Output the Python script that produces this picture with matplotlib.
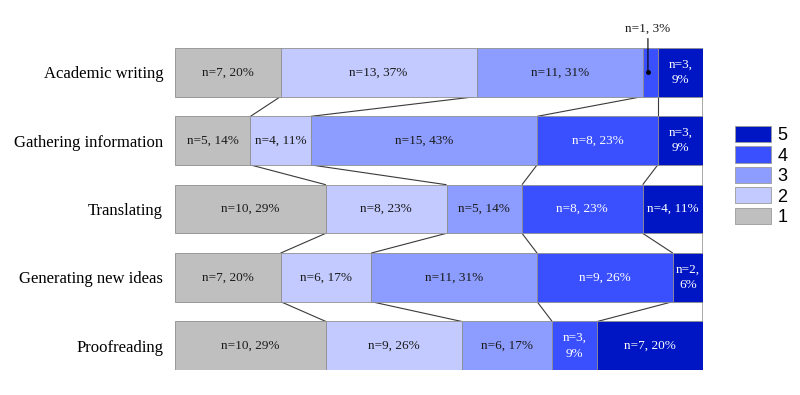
import matplotlib
matplotlib.use("Agg")
import matplotlib.pyplot as plt
from matplotlib.patches import Patch
import numpy as np

categories = ["Academic writing", "Gathering information", "Translating",
              "Generating new ideas", "Proofreading"]
levels = ["1", "2", "3", "4", "5"]
counts = {
    "1": [7, 5, 10, 7, 10],
    "2": [13, 4, 8, 6, 9],
    "3": [11, 15, 5, 11, 6],
    "4": [1, 8, 8, 9, 3],
    "5": [3, 3, 4, 2, 7],
}
colors = ["#BFBFBF", "#C2CAFF", "#8C9CFF", "#3A50FF", "#0016C4"]
text_colors = ["#1a1a1a", "#1a1a1a", "#1a1a1a", "white", "white"]

serif = "Liberation Serif"
sans = "Liberation Sans"
fs = 9.5

fig = plt.figure(figsize=(8, 3.95), dpi=100)
ax = fig.add_axes([175 / 800, 1 - 370 / 395, (703 - 175) / 800, (370 - 48) / 395])

data = np.array([counts[l] for l in levels], dtype=float)  # levels x categories
total = data.sum(axis=0)
cum = np.vstack([np.zeros(len(categories)), np.cumsum(data, axis=0)])
y = np.arange(len(categories))
h = 0.71

for j, lev in enumerate(levels):
    ax.barh(y, data[j], left=cum[j], height=h, color=colors[j],
            edgecolor="#8f8f8f", linewidth=0.6, zorder=2)
    for i in range(len(categories)):
        n = int(data[j, i])
        pct = int(round(n / total[i] * 100))
        xc = cum[j, i] + n / 2
        if n == 1:
            ax.plot([xc - 0.15], [y[i]], marker="o", ms=2.5, color="black", zorder=4)
            ax.annotate(f"n={n}, {pct}%", xy=(xc - 0.15, y[i]),
                        xytext=(xc - 0.15, y[i] - h / 2 - 0.2),
                        ha="center", va="bottom", fontsize=fs, family=serif,
                        color="#1a1a1a",
                        arrowprops=dict(arrowstyle="-", color="black", lw=0.8,
                                        shrinkA=1, shrinkB=0),
                        annotation_clip=False, zorder=4)
        elif n <= 3:
            ax.text(xc, y[i], f"n={n},\n{pct}%", ha="center", va="center",
                    fontsize=fs, family=serif, color=text_colors[j],
                    linespacing=1.4, zorder=3)
        else:
            ax.text(xc, y[i], f"n={n}, {pct}%", ha="center", va="center",
                    fontsize=fs, family=serif, color=text_colors[j], zorder=3)

# connector lines between bars
for i in range(len(categories) - 1):
    for k in range(1, len(levels) + 1):
        col = "#9a9a9a" if k == len(levels) else "#3a3a3a"
        lw = 1.2 if k == len(levels) else 0.8
        ax.plot([cum[k, i], cum[k, i + 1]], [y[i] + h / 2, y[i + 1] - h / 2],
                color=col, lw=lw, zorder=1, solid_capstyle="butt")

ax.set_xlim(0, total.max())
ax.set_ylim(len(categories) - 1 + h / 2, -h / 2)
ax.set_yticks(y)
ax.set_yticklabels(categories, fontsize=12, family=serif)
ax.tick_params(axis="y", length=0, pad=8.5)
ax.set_xticks([])
for s in ax.spines.values():
    s.set_visible(False)

handles = [Patch(facecolor=colors[j], edgecolor="#9a9a9a", linewidth=0.6,
                 label=levels[j]) for j in range(len(levels))][::-1]
leg = fig.legend(handles=handles, loc="upper left",
                 bbox_to_anchor=(735 / 800, 1 - 126 / 395),
                 frameon=False, prop={"family": sans, "size": 13},
                 handlelength=2.0, handleheight=1.0, labelspacing=0.12,
                 handletextpad=0.35, borderpad=0, borderaxespad=0)

fig.savefig("out.png", dpi=100)
